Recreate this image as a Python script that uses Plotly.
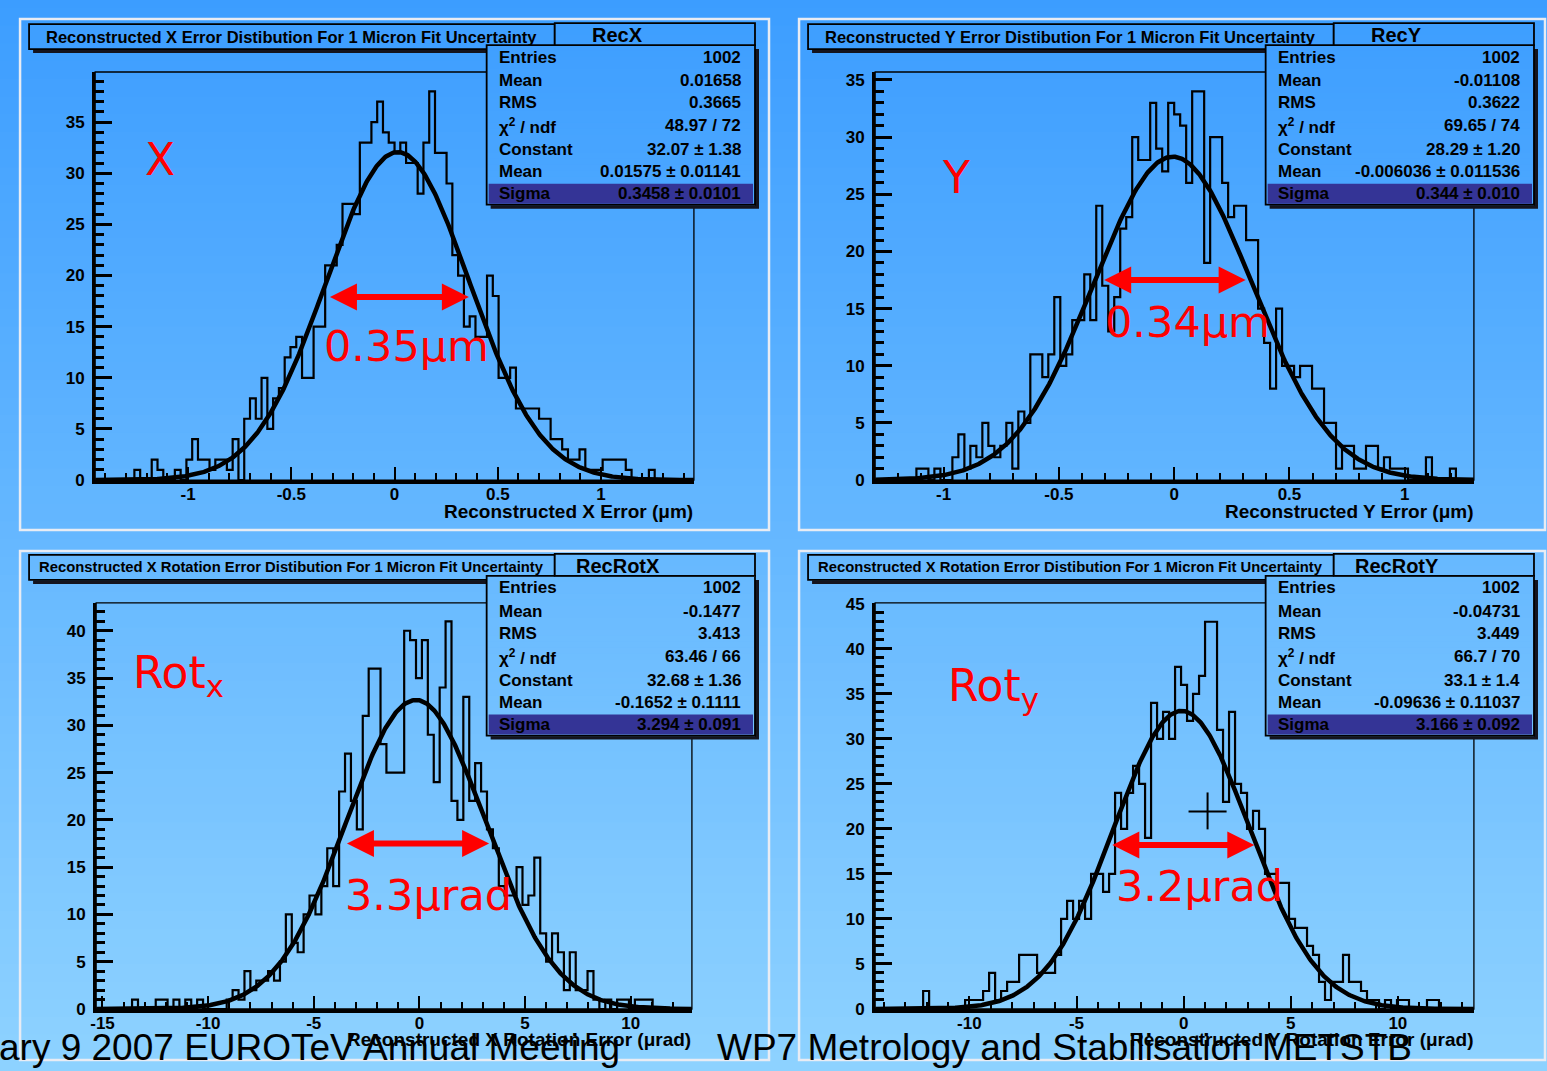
import numpy as np
import plotly.graph_objects as go

W, H = 1547, 1071

# ---------------- data ----------------
recx_counts = [0,0,0,0,0,1,0,0,2,1,
               0,0,1,0,2,4,2,2,1,2,
               2,1,4,0,6,8,6,10,5,8,
               9,12,13,14,10,10,15,15,21,21,
               23,27,27,26,33,33,35,37,34,33,
               32,33,31,31,28,33,38,32,32,29,
               22,20,15,16,14,14,20,18,10,10,
               11,7,7,7,7,6,6,4,4,3,
               2,2,3,1,1,1,2,2,2,2,
               1,0,0,0,1,0,0,0,0,0]
recy_counts = [0,0,0,0,0,0,0,1,1,0,
               1,0,0,2,4,1,3,2,5,3,
               2,3,5,1,6,5,11,11,9,11,
               16,10,11,14,14,18,14,24,17,13,
               16,22,23,30,28,28,33,29,27,33,
               32,31,26,34,34,19,30,30,26,23,
               24,24,21,21,15,12,8,15,10,10,
               9,10,10,8,8,5,5,1,3,3,
               1,1,3,3,1,2,1,1,1,0,
               0,0,2,0,0,0,1,0,0,0]
rotx_counts = [0,0,0,0,0,1,0,0,0,1,
               1,0,1,0,1,0,1,0,0,0,
               0,1,2,1,4,2,3,3,4,3,
               5,10,7,6,10,12,10,13,17,13,
               23,27,22,19,31,36,36,28,25,25,
               25,40,39,35,39,29,24,34,41,22,
               20,33,22,26,23,19,17,13,12,12,
               15,11,12,16,8,5,8,6,2,6,
               2,2,4,1,0,1,0,1,1,0,
               1,1,1,0,0,0,0,0,0,0]
roty_counts = [0,0,0,0,0,0,0,0,2,0,
               0,0,0,0,0,1,1,1,2,4,
               1,2,3,3,6,6,6,4,4,4,
               6,10,12,10,12,10,15,15,13,15,
               24,20,24,27,25,19,34,30,33,30,
               38,36,32,35,37,43,43,31,23,33,
               25,24,20,22,20,15,15,14,14,10,
               9,9,7,6,3,1,3,3,6,3,
               3,2,1,1,0,1,0,1,1,0,
               0,0,1,1,0,0,0,0,0,0]

recx_bins = (-1.4, 1.4, 100)
recy_bins = (-1.3, 1.3, 100)
rotx_bins = (-15.0, 13.0, 100)
roty_bins = (-14.4, 13.6, 100)

# fit parameters (Constant, Mean, Sigma)
recx_fit = (32.07, 0.01575, 0.3458)
recy_fit = (28.29, -0.006036, 0.344)
rotx_fit = (32.68, -0.1652, 3.294)
roty_fit = (33.1, -0.09636, 3.166)

titles = ["Reconstructed X Error Distibution For 1 Micron Fit Uncertainty",
          "Reconstructed Y Error Distibution For 1 Micron Fit Uncertainty",
          "Reconstructed X Rotation Error Distibution For 1 Micron Fit Uncertainty",
          "Reconstructed X Rotation Error Distibution For 1 Micron Fit Uncertainty"]
hist_names = ["RecX", "RecY", "RecRotX", "RecRotY"]
stat_labels = ["Entries", "Mean", "RMS", "χ<sup>2</sup> / ndf", "Constant", "Mean", "Sigma"]
recx_stats = ["1002", "0.01658", "0.3665", "48.97 / 72", "32.07 ± 1.38", "0.01575 ± 0.01141", "0.3458 ± 0.0101"]
recy_stats = ["1002", "-0.01108", "0.3622", "69.65 / 74", "28.29 ± 1.20", "-0.006036 ± 0.011536", "0.344 ± 0.010"]
rotx_stats = ["1002", "-0.1477", "3.413", "63.46 / 66", "32.68 ± 1.36", "-0.1652 ± 0.1111", "3.294 ± 0.091"]
roty_stats = ["1002", "-0.04731", "3.449", "66.7 / 70", "33.1 ± 1.4", "-0.09636 ± 0.11037", "3.166 ± 0.092"]
x_titles = ["Reconstructed X Error (μm)", "Reconstructed Y Error (μm)",
            "Reconstructed X Rotation Error (μrad)", "Reconstructed Y Rotation Error (μrad)"]

um_ticks = [-1, -0.5, 0, 0.5, 1]
um_ticktext = ["-1", "-0.5", "0", "0.5", "1"]
rotx_ticks = [-15, -10, -5, 0, 5, 10]
rotx_ticktext = ["-15", "-10", "-5", "0", "5", "10"]
roty_ticks = [-10, -5, 0, 5, 10]
roty_ticktext = ["-10", "-5", "0", "5", "10"]
y_ticks_35 = [0, 5, 10, 15, 20, 25, 30, 35]
y_ticks_40 = [0, 5, 10, 15, 20, 25, 30, 35, 40]
y_ticks_45 = [0, 5, 10, 15, 20, 25, 30, 35, 40, 45]

big_labels = ["X", "Y", "Rot<sub>x</sub>", "Rot<sub>y</sub>"]
width_labels = ["0.35μm", "0.34μm", "3.3μrad", "3.2μrad"]
# arrow (x from, x to, y) in data units of each panel
arrows = [(-0.32, 0.36, 17.9), (-0.31, 0.31, 17.5), (-3.5, 3.3, 17.5), (-3.4, 3.3, 18.2)]

footer_left = "ary 9 2007 EUROTeV Annual Meeting"
footer_right = "WP7 Metrology and Stabilisation METSTB"

# ---------------- layout helpers ----------------
# the page is photographed as a whole (with the default 8px body margin) and
# rescaled to the window; positions below are given in picture pixels and
# converted back to paper coordinates here.
SX = W / (W + 8.0)
SY = H / (H + 16.0)
OX = 8.0 * SX
OY = 8.0 * SY

def PX(x):
    return ((x - OX) / SX) / W

def PY(y):
    return 1 - ((y - OY) / SY) / H

TOP = (60, 157, 255)
BOT = (142, 210, 255)

def grad(y):
    t = min(max(y / H, 0), 1)
    c = [round(TOP[i] + (BOT[i] - TOP[i]) * t) for i in range(3)]
    return "rgb(%d,%d,%d)" % tuple(c)

FONT = "Liberation Sans"
RFONT = "DejaVu Sans"

shapes = []
annotations = []

# background gradient
n_strips = 62
for k in range(n_strips):
    y0 = -10 + k * 1100 / n_strips
    y1 = -10 + (k + 1) * 1100 / n_strips + 1
    shapes.append(dict(type="rect", xref="paper", yref="paper", x0=-0.02, x1=1.02,
                       y0=PY(y1), y1=PY(y0), fillcolor=grad((y0 + y1) / 2),
                       line=dict(width=0), layer="below"))

def grad_box(x0, y0, x1, y1, step=6):
    y = y0
    while y < y1:
        ye = min(y + step, y1)
        shapes.append(dict(type="rect", xref="paper", yref="paper", x0=PX(x0), x1=PX(x1),
                           y0=PY(ye + 0.6), y1=PY(y), fillcolor=grad((y + ye) / 2),
                           line=dict(width=0), layer="above"))
        y = ye

def border(x0, y0, x1, y1, color="black", w=1.5, fill=None):
    d = dict(type="rect", xref="paper", yref="paper", x0=PX(x0), x1=PX(x1),
             y0=PY(y1), y1=PY(y0), line=dict(color=color, width=w), layer="above")
    if fill:
        d["fillcolor"] = fill
    shapes.append(d)

def shadow(x0, y0, x1, y1, off=4):
    shapes.append(dict(type="rect", xref="paper", yref="paper", x0=PX(x0 + off), x1=PX(x1 + off),
                       y0=PY(y1 + off), y1=PY(y0 + off), fillcolor="rgb(20,20,30)",
                       line=dict(width=0), layer="above"))

# panel geometry (picture pixels)
frames = [(97, 72, 695, 481), (876, 72, 1474, 481), (98, 604, 693, 1011), (876, 604, 1474, 1011)]
offs = [(0, 0), (778, 0), (0, 532), (778, 532)]
pads = [(22, 19, 770, 531), (800, 19, 1545, 531), (22, 552, 770, 1062), (800, 552, 1545, 1062)]
x_ranges = [[-1.45, 1.45], [-1.297, 1.30], [-15.3, 12.9], [-14.4, 13.55]]
y_ranges = [[0, 39.9], [0, 35.7], [0, 42.95], [0, 45.1]]
counts_list = [recx_counts, recy_counts, rotx_counts, roty_counts]
bins_list = [recx_bins, recy_bins, rotx_bins, roty_bins]
fits = [recx_fit, recy_fit, rotx_fit, roty_fit]
stats_list = [recx_stats, recy_stats, rotx_stats, roty_stats]
xtick_sets = [(um_ticks, um_ticktext, 0.1), (um_ticks, um_ticktext, 0.1),
              (rotx_ticks, rotx_ticktext, 1), (roty_ticks, roty_ticktext, 1)]
ytick_sets = [y_ticks_35, y_ticks_35, y_ticks_40, y_ticks_45]
big_pos = [(162, 160), (957, 178), (180, 677), (994, 690)]
width_pos = [(408, 347), (1188, 323), (430, 897), (1200, 888)]
title_sizes = [16.5, 16.5, 14.8, 14.8]

fig = go.Figure()

for p in range(4):
    sfx = "" if p == 0 else str(p + 1)
    xa, ya = "x" + sfx, "y" + sfx
    fx0, fy0, fx1, fy1 = frames[p]
    lo, hi, nb = bins_list[p]
    edges = np.linspace(lo, hi, nb + 1)
    cnt = counts_list[p]
    fig.add_trace(go.Scatter(x=edges, y=list(cnt) + [cnt[-1]], mode="lines",
                             line=dict(color="black", width=2.2, shape="hv"),
                             xaxis=xa, yaxis=ya, showlegend=False, hoverinfo="skip"))
    c, m, s = fits[p]
    xf = np.linspace(x_ranges[p][0], x_ranges[p][1], 600)
    yf = c * np.exp(-0.5 * ((xf - m) / s) ** 2)
    fig.add_trace(go.Scatter(x=xf, y=yf, mode="lines", line=dict(color="black", width=4.5),
                             xaxis=xa, yaxis=ya, showlegend=False, hoverinfo="skip"))

    tv, tt, mdt = xtick_sets[p]
    xaxis = dict(domain=[PX(fx0), PX(fx1)], range=x_ranges[p], anchor=ya,
                 showgrid=False, zeroline=False, showline=True, linecolor="black", linewidth=3.5,
                 ticks="inside", ticklen=13, tickwidth=2, tickcolor="black",
                 tickmode="array", tickvals=tv, ticktext=tt, ticklabelstandoff=-4,
                 tickfont=dict(family=FONT, size=17, color="black", weight="bold"),
                 minor=dict(ticks="inside", ticklen=7, tickwidth=1.6, tickcolor="black",
                            tickmode="linear", tick0=0, dtick=mdt, showgrid=False))
    yv = ytick_sets[p]
    yaxis = dict(domain=[PY(fy1), PY(fy0)], range=y_ranges[p], anchor=xa,
                 showgrid=False, zeroline=False, showline=True, linecolor="black", linewidth=3,
                 ticks="inside", ticklen=17, tickwidth=3, tickcolor="black",
                 tickmode="array", tickvals=yv, ticktext=[str(v) for v in yv],
                 ticklabelstandoff=4,
                 tickfont=dict(family=FONT, size=17, color="black", weight="bold"),
                 minor=dict(ticks="inside", ticklen=9, tickwidth=2.5, tickcolor="black",
                            tickmode="linear", tick0=0, dtick=1, showgrid=False))
    fig.update_layout(**{"xaxis" + sfx: xaxis, "yaxis" + sfx: yaxis})

    # thin frame
    shapes.append(dict(type="rect", xref=xa + " domain", yref=ya + " domain", x0=0, x1=1, y0=0, y1=1,
                       line=dict(color="black", width=1.3), layer="above"))

    dx, dy = offs[p]
    # title box
    tb = (31 + dx, 24 + dy, 556 + dx, 49 + dy)
    shadow(*tb, off=4)
    grad_box(*tb)
    border(*tb, w=1.8)
    annotations.append(dict(x=PX((tb[0] + tb[2]) / 2), y=PY(36.5 + dy), xref="paper", yref="paper",
                            text=titles[p], showarrow=False, xanchor="center", yanchor="middle",
                            font=dict(family=FONT, size=title_sizes[p], color="black", weight="bold")))
    # stats body
    bb = (488 + dx, 45 + dy, 756 + dx, 205 + dy)
    shadow(*bb, off=4)
    grad_box(*bb)
    border(*bb, w=1.8)
    sb = (490 + dx, 184 + dy, 754 + dx, 204 + dy)
    border(*sb, color="rgb(52,52,150)", w=0, fill="rgb(52,52,150)")
    # stats header
    hb = (556 + dx, 23 + dy, 756 + dx, 45 + dy)
    grad_box(*hb)
    border(*hb, w=1.8)
    annotations.append(dict(x=PX(619 + dx), y=PY(35 + dy), xref="paper", yref="paper",
                            text=hist_names[p], showarrow=False, xanchor="center", yanchor="middle",
                            font=dict(family=FONT, size=20, color="black", weight="bold")))
    rows_y = [57, 81, 103, 126, 150, 172, 194]
    for r, (lab, val) in enumerate(zip(stat_labels, stats_list[p])):
        annotations.append(dict(x=PX(498 + dx), y=PY(rows_y[r] + dy), xref="paper", yref="paper",
                                text=lab, showarrow=False, xanchor="left", yanchor="middle",
                                font=dict(family=FONT, size=17, color="black", weight="bold")))
        annotations.append(dict(x=PX(744 + dx), y=PY(rows_y[r] + dy), xref="paper", yref="paper",
                                text=val, showarrow=False, xanchor="right", yanchor="middle",
                                font=dict(family=FONT, size=17, color="black", weight="bold")))
    # x axis title
    annotations.append(dict(x=PX(fx1 + 1), y=PY(fy1 + 31), xref="paper", yref="paper",
                            text=x_titles[p], showarrow=False, xanchor="right", yanchor="middle",
                            font=dict(family=FONT, size=19, color="black", weight="bold")))
    # red labels
    bx, by = big_pos[p]
    annotations.append(dict(x=PX(bx), y=PY(by), xref="paper", yref="paper", text=big_labels[p],
                            showarrow=False, xanchor="center", yanchor="middle",
                            font=dict(family=RFONT, size=44, color="red")))
    wx, wy = width_pos[p]
    annotations.append(dict(x=PX(wx), y=PY(wy), xref="paper", yref="paper", text=width_labels[p],
                            showarrow=False, xanchor="center", yanchor="middle",
                            font=dict(family=RFONT, size=43, color="red")))
    a0, a1, ay = arrows[p]
    annotations.append(dict(x=a1, y=ay, ax=a0, ay=ay, xref=xa, yref=ya, axref=xa, ayref=ya,
                            text="", showarrow=True, arrowhead=2, arrowside="end+start",
                            arrowwidth=6, arrowsize=0.9, arrowcolor="red", standoff=0, startstandoff=0))

# pad borders
for (x0, y0, x1, y1) in pads:
    border(x0, y0, x1, y1, color="rgb(232,236,244)", w=2.5)

# crosshair cursor in panel 4
shapes.append(dict(type="line", xref="paper", yref="paper", x0=PX(1189), x1=PX(1227), y0=PY(813), y1=PY(813),
                   line=dict(color="black", width=2), layer="above"))
shapes.append(dict(type="line", xref="paper", yref="paper", x0=PX(1208), x1=PX(1208), y0=PY(794), y1=PY(831),
                   line=dict(color="black", width=2), layer="above"))

# footer
annotations.append(dict(x=PX(-1), y=PY(1050), xref="paper", yref="paper", text=footer_left,
                        showarrow=False, xanchor="left", yanchor="middle",
                        font=dict(family=FONT, size=37, color="black")))
annotations.append(dict(x=PX(716), y=PY(1050), xref="paper", yref="paper", text=footer_right,
                        showarrow=False, xanchor="left", yanchor="middle",
                        font=dict(family=FONT, size=37, color="black")))

fig.update_layout(width=W, height=H, margin=dict(l=0, r=0, t=0, b=0),
                  paper_bgcolor="rgb(100,180,255)", plot_bgcolor="rgba(0,0,0,0)",
                  shapes=shapes, annotations=annotations, showlegend=False)

fig.write_html("out.html")
